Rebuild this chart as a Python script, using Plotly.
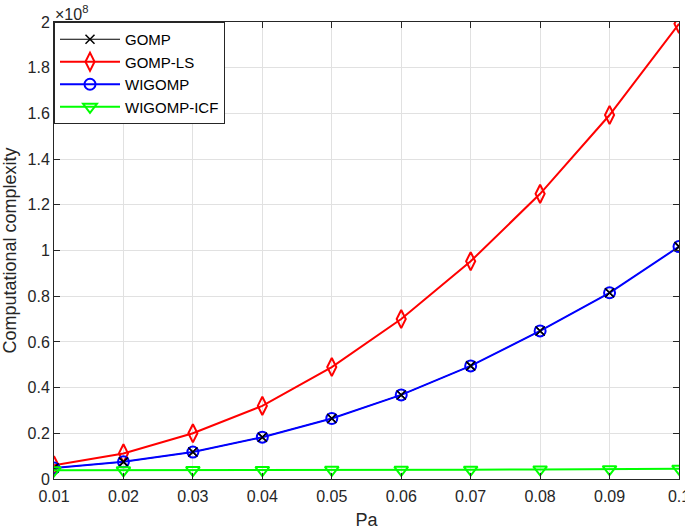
import plotly.graph_objects as go

pa = [0.01, 0.02, 0.03, 0.04, 0.05, 0.06, 0.07, 0.08, 0.09, 0.1]
scale = 1e8
gomp = [0.048, 0.075, 0.118, 0.183, 0.265, 0.368, 0.495, 0.648, 0.815, 1.017]
gomp_ls = [0.060, 0.112, 0.200, 0.320, 0.490, 0.700, 0.953, 1.248, 1.593, 1.992]
wigomp = [0.048, 0.075, 0.118, 0.183, 0.265, 0.368, 0.495, 0.648, 0.815, 1.017]
wigomp_icf = [0.038, 0.038, 0.039, 0.039, 0.040, 0.040, 0.041, 0.042, 0.043, 0.045]

x_ticks = [0.01, 0.02, 0.03, 0.04, 0.05, 0.06, 0.07, 0.08, 0.09, 0.1]
x_labels = ["0.01", "0.02", "0.03", "0.04", "0.05", "0.06", "0.07", "0.08", "0.09", "0.1"]
y_ticks = [0, 0.2, 0.4, 0.6, 0.8, 1.0, 1.2, 1.4, 1.6, 1.8, 2.0]
y_labels = ["0", "0.2", "0.4", "0.6", "0.8", "1", "1.2", "1.4", "1.6", "1.8", "2"]

font_color = "#262626"
FONT = "Liberation Sans, Arial"
fig = go.Figure()

series = {
    "GOMP": (gomp, "black", "x-thin-open", 9),
    "GOMP-LS": (gomp_ls, "red", "diamond-tall-open", 13),
    "WIGOMP": (wigomp, "blue", "circle-open", 11),
    "WIGOMP-ICF": (wigomp_icf, "#00ff00", "triangle-down-open", 12),
}
ranks = {"GOMP": 1, "GOMP-LS": 2, "WIGOMP": 3, "WIGOMP-ICF": 4}

def add(name, mode="lines+markers", show=True, lw=2):
    vals, col, sym, sz = series[name]
    fig.add_trace(go.Scatter(
        x=pa, y=[v * scale for v in vals], name=name, mode=mode,
        line=dict(color=col, width=lw),
        marker=dict(symbol=sym, size=sz, color=col, line=dict(color=col, width=2 if name != "GOMP" else 1.5)),
        legendrank=ranks[name], showlegend=show,
    ))

add("GOMP-LS")
add("GOMP", lw=1)
add("WIGOMP")
add("GOMP", mode="markers", show=False)
add("WIGOMP-ICF")

axis_common = dict(
    showline=True, linecolor=font_color, linewidth=1, mirror="ticks",
    ticks="inside", ticklen=6, tickcolor=font_color,
    showgrid=True, gridcolor="#e1e1e1", gridwidth=1, zeroline=False,
    tickfont=dict(family=FONT, size=16, color=font_color),
    ticklabeloverflow="allow", automargin=False,
)

fig.update_xaxes(range=[0.01, 0.1], tickvals=x_ticks, ticktext=x_labels,
                 title=dict(text="Pa", font=dict(family=FONT, size=18, color=font_color), standoff=10),
                 ticklabelstandoff=3,
                 **axis_common)
fig.update_yaxes(range=[0, 2 * scale], tickvals=[v * scale for v in y_ticks], ticktext=y_labels,
                 title=dict(text="Computational complexity", font=dict(family=FONT, size=18, color=font_color), standoff=6),
                 **axis_common)

fig.add_annotation(x=0, y=1, xref="paper", yref="paper", xanchor="left", yanchor="bottom",
                   text="×10<sup>8</sup>", showarrow=False, xshift=-1, yshift=-3,
                   font=dict(family=FONT, size=16, color=font_color))

fig.update_layout(
    width=685, height=530,
    margin=dict(l=54, r=6, t=22, b=51),
    paper_bgcolor="white", plot_bgcolor="white",
    showlegend=True,
    legend=dict(x=0.0, y=1.0, xanchor="left", yanchor="top",
                bgcolor="white", bordercolor=font_color, borderwidth=1,
                font=dict(family=FONT, size=15, color="black"),
                traceorder="normal", tracegroupgap=0, itemwidth=60),
)

fig.write_html("out.html")
